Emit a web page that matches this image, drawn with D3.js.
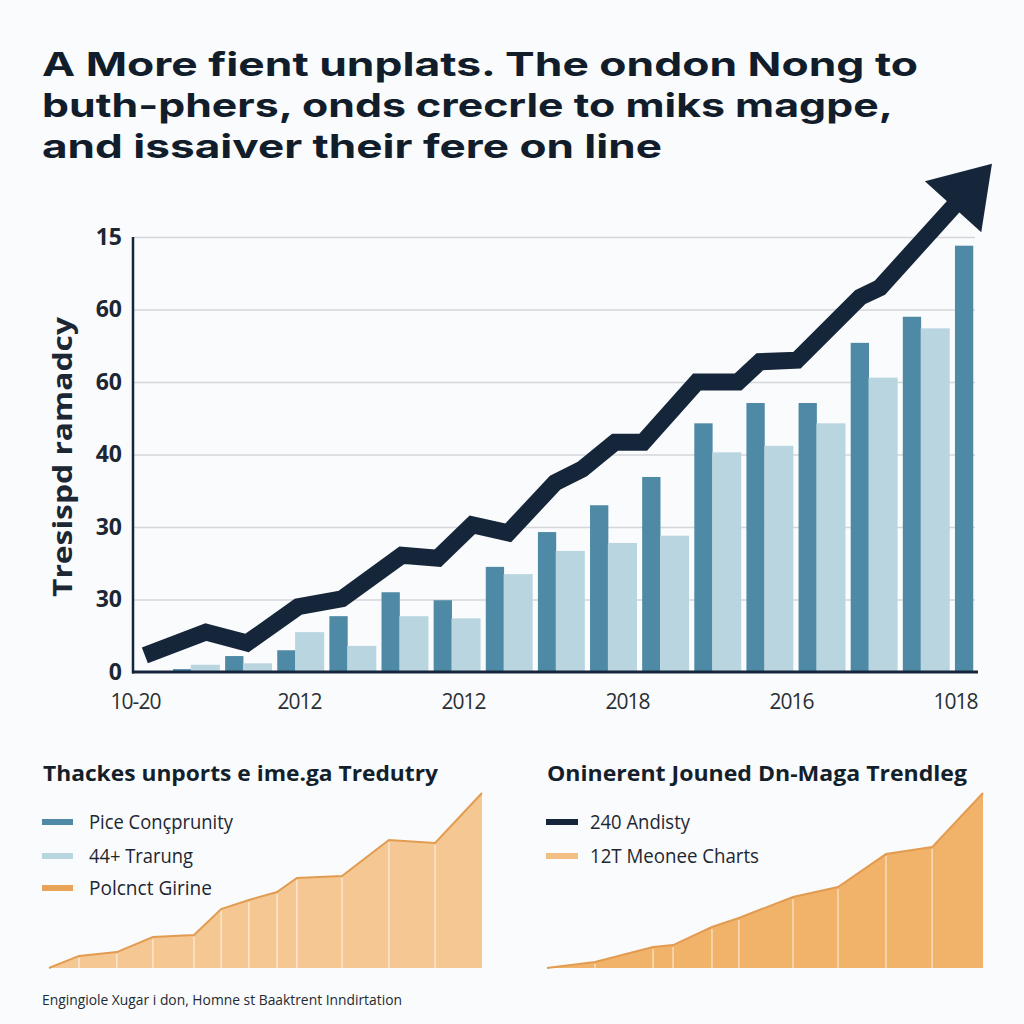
<!DOCTYPE html>
<html>
<head>
<meta charset="utf-8">
<script src="https://cdn.jsdelivr.net/npm/d3@7"></script>
<style>
  html, body { margin: 0; padding: 0; background: #fafbfc; }
  svg { display: block; }
</style>
</head>
<body>
<script>
// ---------- DATA ----------
const titleLines = [
  "A More fient unplats. The ondon Nong to",
  "buth-phers, onds crecrle to miks magpe,",
  "and issaiver their fere on line"
];
const yAxisTitle = "Tresispd ramadcy";
const yTickValues = [0, 10, 20, 30, 40, 50, 60];
const yTickLabels = ["0", "30", "30", "40", "60", "60", "15"];
const xTickLabels = ["10-20", "2012", "2012", "2018", "2016", "1018"];

const barGroups = d3.range(16);
const darkBars  = [0.4, 2.2, 3.0, 7.7, 11.0, 9.9, 14.5, 19.3, 23.0, 26.9, 34.3, 37.1, 37.1, 45.4, 49.0, 58.8];
const lightBars = [1.0, 1.2, 5.5, 3.6, 7.7, 7.4, 13.5, 16.7, 17.8, 18.8, 30.3, 31.2, 34.3, 40.6, 47.4, null];

// trend line: position in bar-group units, value in y units
const trendX = [-0.54, 0.63, 1.42, 2.40, 3.24, 4.39, 5.08, 5.74, 6.43, 7.33, 7.85, 8.48, 9.02, 10.05, 10.84, 11.26, 11.97, 13.18, 13.56, 15.71];
const trendY = [2.3, 5.5, 4.0, 9.0, 10.1, 16.1, 15.7, 20.3, 19.2, 26.1, 28.0, 31.7, 31.7, 40.0, 40.0, 42.8, 43.0, 51.7, 53.0, 70.1];

const leftTitle = "Thackes unports e ime.ga Tredutry";
const leftLegend = ["Pice Conçprunity", "44+ Trarung", "Polcnct Girine"];
const leftAreaX = [0, 0.83, 1.88, 2.88, 4.02, 4.77, 5.54, 6.32, 6.87, 8.12, 9.42, 10.70, 12];
const leftAreaY = [0, 6.9, 9.1, 17.7, 18.9, 33.7, 38.9, 43.4, 51.4, 52.6, 73.1, 71.4, 100];

const rightTitle = "Oninerent Jouned Dn-Maga Trendleg";
const rightLegend = ["240 Andisty", "12T Meonee Charts"];
const rightAreaX = [0, 1.32, 2.92, 3.47, 4.54, 5.28, 6.77, 8.01, 9.33, 10.60, 12];
const rightAreaY = [0, 3.4, 12, 13.1, 23.4, 28.6, 40.6, 46.3, 65.1, 69.1, 100];

const footerText = "Engingiole Xugar i don, Homne st Baaktrent Inndirtation";

// ---------- STYLE ----------
const C = {
  navy: "#16263a",
  dark: "#4e89a6",
  light: "#b9d5e0",
  grid: "#d3d6da",
  orangeLine: "#e29c52",
  orangeFillL: "#f5c893",
  orangeFillR: "#f1b26a",
  text: "#1d2733"
};
const FONT = "'Open Sans', 'Noto Sans', sans-serif";
const TITLE_FONT = "Inter, 'Open Sans', sans-serif";

const svg = d3.select("body").append("svg")
  .attr("width", 1024).attr("height", 1024)
  .style("background", "#fafbfc");

// ---------- TITLE ----------
const titleBase = [76, 117, 158];
const titleLen = [876, 851, 620];
svg.append("g").selectAll("text").data(titleLines).join("text")
  .attr("x", 42).attr("y", (d, i) => titleBase[i])
  .attr("font-family", TITLE_FONT).attr("font-weight", 700).attr("font-size", 33)
  .attr("fill", "#121d2b")
  .attr("textLength", (d, i) => titleLen[i]).attr("lengthAdjust", "spacingAndGlyphs")
  .text(d => d);

// ---------- MAIN CHART ----------
const plotL = 133, plotR = 978, plotT = 237, plotB = 672;
const y = d3.scaleLinear().domain([0, 60]).range([plotB, plotT]);
const step = 52.13;
const x = d3.scaleBand().domain(barGroups)
  .range([173, 173 + step * 15.9]).paddingInner(0.1).paddingOuter(0);
const xTrend = d3.scaleLinear().domain([0, 15]).range([173, 173 + step * 15]);
const xLab = d3.scalePoint().domain(d3.range(xTickLabels.length)).range([135, 955]);

// gridlines
const gGrid = svg.append("g").attr("transform", `translate(${plotL},0)`)
  .call(d3.axisLeft(y).tickValues(yTickValues.slice(1)).tickSize(-(975 - plotL)).tickFormat(""));
gGrid.select(".domain").remove();
gGrid.selectAll("line").attr("stroke", C.grid).attr("stroke-width", 1.5);

// y-axis tick labels
const gY = svg.append("g").attr("transform", `translate(${plotL},0)`)
  .call(d3.axisLeft(y).tickValues(yTickValues).tickSize(0).tickPadding(11)
    .tickFormat((d, i) => yTickLabels[i]));
gY.select(".domain").remove();
gY.selectAll("text").attr("font-family", FONT).attr("font-weight", 700)
  .attr("font-size", 23).attr("fill", C.text);

// y-axis title
svg.append("text")
  .attr("transform", `translate(72,457) rotate(-90)`)
  .attr("text-anchor", "middle")
  .attr("font-family", FONT).attr("font-weight", 700).attr("font-size", 27)
  .attr("fill", C.text)
  .attr("textLength", 280).attr("lengthAdjust", "spacingAndGlyphs")
  .text(yAxisTitle);

// bars
const bw = x.bandwidth();
svg.append("g").selectAll("rect").data(barGroups).join("rect")
  .attr("x", i => x(i)).attr("width", bw * 0.39)
  .attr("y", i => y(darkBars[i])).attr("height", i => plotB - y(darkBars[i]))
  .attr("fill", C.dark);
svg.append("g").selectAll("rect").data(barGroups.filter(i => lightBars[i] != null)).join("rect")
  .attr("x", i => x(i) + bw * 0.38).attr("width", bw * 0.62)
  .attr("y", i => y(lightBars[i])).attr("height", i => plotB - y(lightBars[i]))
  .attr("fill", C.light);

// axes lines
svg.append("line").attr("x1", plotL).attr("x2", plotL).attr("y1", plotT).attr("y2", plotB + 1.5)
  .attr("stroke", C.navy).attr("stroke-width", 2.5);
svg.append("line").attr("x1", plotL - 1).attr("x2", plotR).attr("y1", plotB).attr("y2", plotB)
  .attr("stroke", C.navy).attr("stroke-width", 3);

// x labels
const gX = svg.append("g").attr("transform", `translate(0,${plotB})`)
  .call(d3.axisBottom(xLab).tickSize(0).tickPadding(22).tickFormat((d, i) => xTickLabels[i]));
gX.select(".domain").remove();
gX.selectAll("text").attr("font-family", FONT).attr("font-weight", 400)
  .attr("font-size", 21).attr("fill", "#2b2f35").attr("letter-spacing", -1);

// trend line with arrow
const pts = trendX.map((t, i) => [xTrend(t), y(trendY[i])]);
const tip = pts[pts.length - 1];
const prev = pts[pts.length - 2];
const dx = tip[0] - prev[0], dy = tip[1] - prev[1];
const len = Math.hypot(dx, dy);
const ux = dx / len, uy = dy / len;
const headLen = 58, headHalf = 38;
const base = [tip[0] - ux * headLen, tip[1] - uy * headLen];
const linePts = pts.slice(0, -1).concat([[base[0] + ux * 4, base[1] + uy * 4]]);
svg.append("path")
  .attr("d", d3.line()(linePts))
  .attr("fill", "none").attr("stroke", C.navy).attr("stroke-width", 17)
  .attr("stroke-linejoin", "miter").attr("stroke-miterlimit", 3).attr("stroke-linecap", "butt");
const px = -uy, py = ux;
svg.append("path")
  .attr("d", d3.line()([
    tip,
    [base[0] + px * headHalf, base[1] + py * headHalf],
    [base[0] - px * headHalf, base[1] - py * headHalf]
  ]) + "Z")
  .attr("fill", C.navy);

// ---------- BOTTOM PANELS ----------
function panel(opts) {
  const g = svg.append("g");
  g.append("text")
    .attr("x", opts.titleX).attr("y", 781)
    .attr("font-family", FONT).attr("font-weight", 700).attr("font-size", 22)
    .attr("fill", "#141f2c")
    .attr("textLength", opts.titleLen).attr("lengthAdjust", "spacingAndGlyphs")
    .text(opts.title);

  const ax = d3.scaleLinear().domain([0, 12]).range(opts.xRange);
  const ay = d3.scaleLinear().domain([0, 100]).range([968, 793]);
  const data = opts.xs.map((v, i) => [v, opts.ys[i]]);
  const area = d3.area().x(d => ax(d[0])).y0(968).y1(d => ay(d[1]));
  const line = d3.line().x(d => ax(d[0])).y(d => ay(d[1]));
  g.append("path").attr("d", area(data)).attr("fill", opts.fill);
  g.append("g").selectAll("line").data(data.slice(1, -1)).join("line")
    .attr("x1", d => ax(d[0])).attr("x2", d => ax(d[0]))
    .attr("y1", d => ay(d[1]) + 2).attr("y2", 968)
    .attr("stroke", "#ffffff").attr("stroke-opacity", 0.55).attr("stroke-width", 1.5);
  g.append("path").attr("d", line(data)).attr("fill", "none")
    .attr("stroke", C.orangeLine).attr("stroke-width", 2);

  const leg = g.append("g").selectAll("g").data(opts.legend).join("g");
  leg.append("rect")
    .attr("x", opts.swX).attr("y", (d, i) => opts.swY[i]).attr("width", opts.swW).attr("height", 6)
    .attr("fill", (d, i) => opts.swColors[i]);
  leg.append("text")
    .attr("x", opts.txX).attr("y", (d, i) => opts.txY[i])
    .attr("font-family", FONT).attr("font-weight", 400).attr("font-size", 20)
    .attr("fill", C.text)
    .attr("textLength", (d, i) => opts.txLen[i]).attr("lengthAdjust", "spacingAndGlyphs")
    .text(d => d);
}

panel({
  title: leftTitle, titleX: 43, titleLen: 395,
  xRange: [49, 482], xs: leftAreaX, ys: leftAreaY, fill: C.orangeFillL,
  legend: leftLegend, swX: 42, swW: 31, swY: [819, 853, 885],
  swColors: [C.dark, C.light, "#e7a358"],
  txX: 89, txY: [829, 863, 895], txLen: [144, 104, 123]
});
panel({
  title: rightTitle, titleX: 547, titleLen: 420,
  xRange: [547, 983], xs: rightAreaX, ys: rightAreaY, fill: C.orangeFillR,
  legend: rightLegend, swX: 546, swW: 32, swY: [819, 853],
  swColors: [C.navy, "#f3be84"],
  txX: 590, txY: [829, 863], txLen: [100, 169]
});

// footer
svg.append("text")
  .attr("x", 42).attr("y", 1005)
  .attr("font-family", FONT).attr("font-size", 14).attr("fill", "#222a33")
  .attr("textLength", 360).attr("lengthAdjust", "spacingAndGlyphs")
  .text(footerText);
</script>
</body>
</html>
